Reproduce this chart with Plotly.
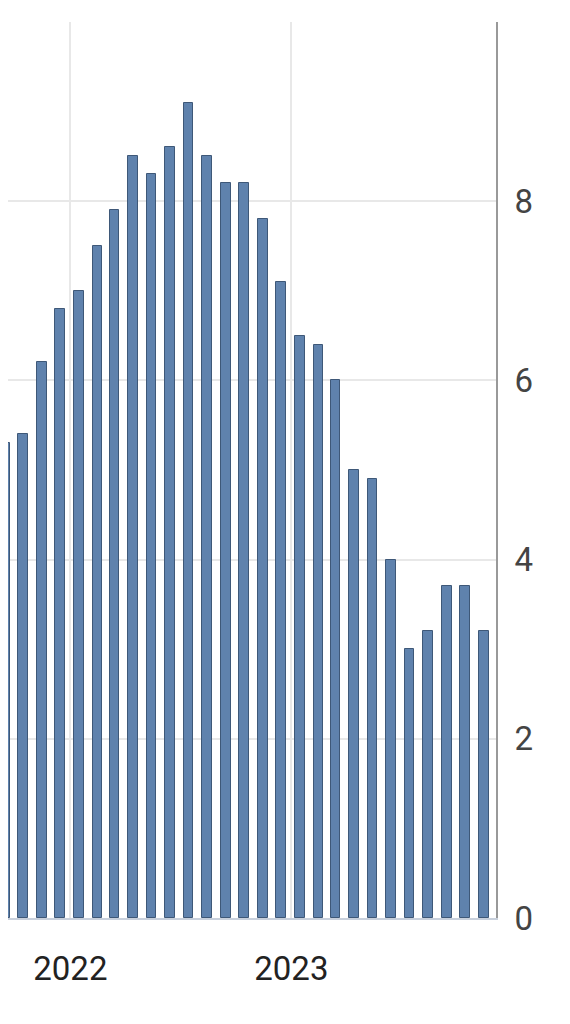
import plotly.graph_objects as go
import pandas as pd

# monthly values, Sep 2021 - Nov 2023
months = pd.date_range("2021-09-01", "2023-11-01", freq="MS") + pd.Timedelta(days=14)
values = [5.3, 5.4, 6.2, 6.8, 7.0, 7.5, 7.9, 8.5, 8.3, 8.6, 9.1, 8.5, 8.2, 8.2,
          7.8, 7.1, 6.5, 6.4, 6.0, 5.0, 4.9, 4.0, 3.0, 3.2, 3.7, 3.7, 3.2]
y_ticks = [0, 2, 4, 6, 8, 10]

fig = go.Figure(go.Bar(
    x=months, y=values,
    marker=dict(color="#5f82ad", line=dict(color="#3e5878", width=1)),
    width=16 * 86400000,
))

fig.update_xaxes(
    range=["2021-09-20", "2023-12-05"],
    tickvals=["2022-01-01", "2023-01-01"], ticktext=["2022", "2023"],
    showgrid=True, gridcolor="#e8e8e8", gridwidth=2,
    showline=True, linecolor="#c8d0dc", linewidth=2,
    tickfont=dict(size=33, color="#222", family="Roboto"), ticks="", ticklabelstandoff=20,
    automargin=False,
)
fig.update_yaxes(
    side="right", range=[0, 10], tickvals=y_ticks,
    showgrid=True, gridcolor="#e8e8e8", gridwidth=2, zeroline=False,
    showline=True, linecolor="#999", linewidth=2,
    tickfont=dict(size=33, color="#444", family="Roboto"), ticks="", ticklabelstandoff=10,
    automargin=False,
)
fig.update_layout(
    width=570, height=1024, margin=dict(l=0, r=82, t=14, b=114),
    paper_bgcolor="white", plot_bgcolor="white", showlegend=False, bargap=0,
)
fig.write_html("out.html")
